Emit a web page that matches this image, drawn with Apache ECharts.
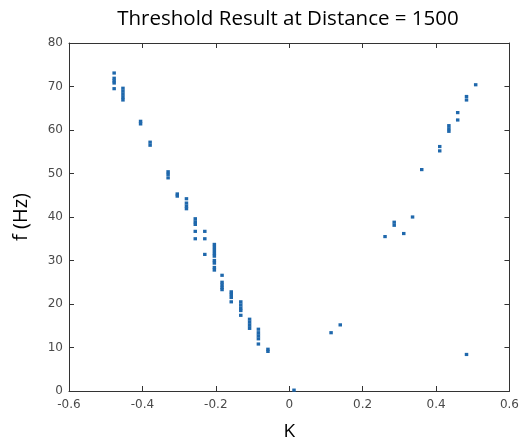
<!DOCTYPE html>
<html>
<head>
<meta charset="utf-8">
<script src="https://cdn.jsdelivr.net/npm/echarts@6/dist/echarts.min.js"></script>
<style>html,body{margin:0;padding:0;background:#fff}#c{width:522px;height:446px}</style>
</head>
<body>
<div id="c"></div>
<script>
// Tick values
var xTicks = [-0.6, -0.4, -0.2, 0, 0.2, 0.4, 0.6];
var yTicks = [0, 10, 20, 30, 40, 50, 60, 70, 80];

// Left branch points [K, f (Hz)]
var leftBranch = [
  [-0.477, 73.1], [-0.477, 71.9], [-0.477, 71.3], [-0.477, 70.8], [-0.477, 69.5],
  [-0.453, 69.6], [-0.453, 68.9], [-0.453, 68.2], [-0.453, 67.5], [-0.453, 66.9],
  [-0.405, 62.0], [-0.405, 61.4],
  [-0.379, 57.2], [-0.379, 56.5],
  [-0.330, 50.4], [-0.330, 49.8], [-0.330, 49.0],
  [-0.305, 45.3], [-0.305, 44.8],
  [-0.280, 44.2], [-0.280, 43.2], [-0.280, 42.5], [-0.280, 41.9],
  [-0.256, 39.6], [-0.256, 38.9], [-0.256, 38.3], [-0.256, 36.7], [-0.256, 35.0],
  [-0.230, 36.7], [-0.230, 35.0], [-0.230, 31.4],
  [-0.204, 33.7], [-0.204, 33.0], [-0.204, 32.3], [-0.204, 31.6], [-0.204, 31.0],
  [-0.204, 30.0], [-0.204, 29.4], [-0.204, 28.4], [-0.204, 27.8],
  [-0.183, 26.6], [-0.183, 25.0], [-0.183, 24.4], [-0.183, 23.8], [-0.183, 23.3],
  [-0.158, 22.8], [-0.158, 22.2], [-0.158, 21.5], [-0.158, 20.5],
  [-0.132, 20.5], [-0.132, 19.8], [-0.132, 19.1], [-0.132, 18.5], [-0.132, 17.4],
  [-0.108, 16.5], [-0.108, 15.8], [-0.108, 15.1], [-0.108, 14.4],
  [-0.084, 14.2], [-0.084, 13.4], [-0.084, 12.7], [-0.084, 12.0], [-0.084, 10.8],
  [-0.058, 9.6], [-0.058, 9.1],
  [0.013, 0.2]
];

// Right branch points [K, f (Hz)]
var rightBranch = [
  [0.114, 13.4], [0.139, 15.2],
  [0.261, 35.5], [0.286, 38.8], [0.286, 38.1], [0.312, 36.2], [0.336, 40.0],
  [0.361, 50.9],
  [0.410, 56.2], [0.410, 55.2],
  [0.435, 61.0], [0.435, 60.3], [0.435, 59.7],
  [0.459, 64.0], [0.459, 62.3],
  [0.483, 67.7], [0.483, 66.9],
  [0.508, 70.4],
  [0.483, 8.4]
];

var chart = echarts.init(document.getElementById('c'), null, {renderer: 'canvas'});
var axisLineStyle = {color: '#333', width: 1};
var tickLabel = {color: '#4a4a4a', fontSize: 12, fontFamily: 'DejaVu Sans'};
var markColor = '#1f68ac';

chart.setOption({
  backgroundColor: '#fff',
  animation: false,
  title: {
    text: 'Threshold Result at Distance = 1500',
    left: 283, top: 4, textAlign: 'center',
    textStyle: {fontFamily: 'Open Sans', fontSize: 20.5, fontWeight: 'normal', color: '#000'}
  },
  grid: {left: 69, right: 9, top: 43, bottom: 54, containLabel: false},
  xAxis: [{
    type: 'value', position: 'bottom',
    min: xTicks[0], max: xTicks[xTicks.length - 1], interval: 0.2,
    name: 'K', nameLocation: 'middle', nameGap: 31,
    nameTextStyle: {fontFamily: 'Open Sans', fontSize: 19, color: '#000'},
    axisLine: {show: true, onZero: false, lineStyle: axisLineStyle},
    axisTick: {show: true, inside: true, length: 5, lineStyle: axisLineStyle},
    axisLabel: {margin: 8, formatter: function (v) { return String(Math.round(v * 10) / 10); }, color: tickLabel.color, fontSize: tickLabel.fontSize, fontFamily: tickLabel.fontFamily},
    splitLine: {show: false}
  }, {
    type: 'value', position: 'top',
    min: xTicks[0], max: xTicks[xTicks.length - 1], interval: 0.2,
    axisLine: {show: true, onZero: false, lineStyle: axisLineStyle},
    axisTick: {show: true, inside: true, length: 5, lineStyle: axisLineStyle},
    axisLabel: {show: false}, splitLine: {show: false}
  }],
  yAxis: [{
    type: 'value', position: 'left',
    min: yTicks[0], max: yTicks[yTicks.length - 1], interval: 10,
    name: 'f (Hz)', nameLocation: 'middle', nameGap: 38, nameRotate: 90,
    nameTextStyle: {fontFamily: 'Open Sans', fontSize: 20, color: '#000'},
    axisLine: {show: true, onZero: false, lineStyle: axisLineStyle},
    axisTick: {show: true, inside: true, length: 5, lineStyle: axisLineStyle},
    axisLabel: {margin: 6, color: tickLabel.color, fontSize: tickLabel.fontSize, fontFamily: tickLabel.fontFamily},
    splitLine: {show: false}
  }, {
    type: 'value', position: 'right',
    min: yTicks[0], max: yTicks[yTicks.length - 1], interval: 10,
    axisLine: {show: true, onZero: false, lineStyle: axisLineStyle},
    axisTick: {show: true, inside: true, length: 5, lineStyle: axisLineStyle},
    axisLabel: {show: false}, splitLine: {show: false}
  }],
  series: [{
    name: 'left', type: 'scatter', xAxisIndex: 0, yAxisIndex: 0,
    symbol: 'rect', symbolSize: [3.5, 3.2], data: leftBranch,
    itemStyle: {color: markColor, opacity: 1}
  }, {
    name: 'right', type: 'scatter', xAxisIndex: 0, yAxisIndex: 0,
    symbol: 'rect', symbolSize: [3.5, 3.2], data: rightBranch,
    itemStyle: {color: markColor, opacity: 1}
  }]
});
</script>
</body>
</html>
